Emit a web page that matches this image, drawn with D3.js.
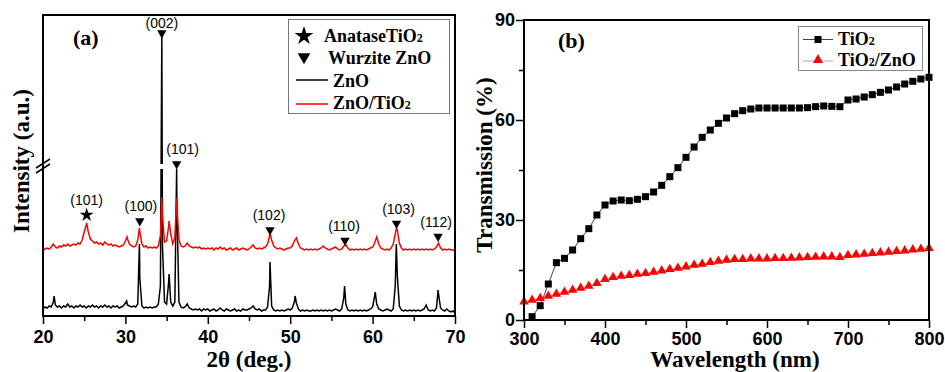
<!DOCTYPE html>
<html lang="en">
<head>
<meta charset="utf-8">
<script src="https://d3js.org/d3.v7.min.js"></script>
<style>
  body { margin: 0; background: #fff; }
  .serif { font-family: "Liberation Serif", "Times New Roman", serif; font-weight: bold; }
  .sans { font-family: "Liberation Sans", Arial, sans-serif; }
</style>
</head>
<body>
<script>
// ---- (a) XRD, every 0.25 deg (arbitrary units, broken axis)
var xrdStart = 20, xrdStep = 0.25;

var znoCounts = [
  7,9,8,10,9,14,11,9,10,8,10,9,12,9,10,8,10,9,11,9,        // 20 - 24.75
  10,8,10,9,11,9,10,8,10,9,11,9,10,8,10,9,10,8,9,10,       // 25 - 29.75
  13,11,10,9,10,9,12,38,10,8,9,8,9,8,9,9,12,30,70,14,      // 30 - 34.75
  12,34,14,10,14,110,14,9,8,9,12,8,7,6,7,6,7,5,7,6,        // 35 - 39.75
  7,5,6,7,5,6,8,6,5,7,6,5,6,7,5,6,5,7,6,6,                 // 40 - 44.75
  7,8,10,7,6,7,5,6,6,9,30,10,6,5,6,5,6,5,6,7,              // 45 - 49.75
  6,8,14,13,7,5,6,5,6,5,5,6,5,6,5,6,5,6,5,6,               // 50 - 54.75
  5,6,7,6,5,7,18,12,6,5,6,5,6,5,6,5,6,5,6,7,               // 55 - 59.75
  9,20,12,7,6,5,6,7,6,5,7,30,40,10,6,5,6,5,6,5,            // 60 - 64.75
  6,5,6,5,6,7,11,6,5,6,5,8,22,8,6,5,7,5,4,5,               // 65 - 69.75
  3
];
var znoApex = [[21.35,20],[30.15,15],[31.7,72],[34.42,279],[35.3,42],[36.22,148],
  [47.55,54],[50.6,20],[56.6,30],[60.32,24],[62.88,72],[67.95,26]];

var znoTiCounts = [
  66,67,68,67,69,72,69,68,70,69,71,70,72,70,71,72,71,73,72,76,
  84,91,84,77,75,73,74,72,73,71,74,72,71,72,70,71,70,69,70,71,
  75,77,72,70,69,70,76,84,72,69,70,68,69,68,69,68,70,80,100,74,
  75,90,82,72,78,110,76,70,69,70,73,70,69,68,69,68,69,67,68,67,
  68,67,68,66,68,67,69,67,68,66,67,68,66,67,68,66,67,68,67,66,
  67,69,71,68,67,68,67,68,69,72,80,76,70,68,67,68,67,66,67,68,
  68,70,75,78,72,68,67,66,67,66,67,66,67,66,67,68,70,68,67,66,
  67,68,69,67,66,67,70,71,68,66,67,66,67,66,67,66,67,66,67,68,
  69,73,79,72,68,67,66,67,66,68,72,82,86,73,68,66,67,66,67,66,
  67,66,67,66,67,66,67,66,67,66,67,69,73,68,66,67,66,67,66,66,
  65
];
var znoTiApex = [[25.3,93],[30.2,79],[31.7,88],[34.42,119],[35.3,95],[36.22,118],
  [47.55,83],[60.5,79],[62.9,88]];

var peakDeg   = [25.3, 31.75, 34.42, 36.22, 47.55, 56.65, 62.9, 67.95];
var peakMark  = [101, 95, 283, 152, 86, 75.5, 92.5, 79.5];
var peakLabel = ["(101)", "(100)", "(002)", "(101)", "(102)", "(110)", "(103)", "(112)"];
var peakPhase = ["anatase", "wurzite", "wurzite", "wurzite", "wurzite", "wurzite", "wurzite", "wurzite"];
var labelDx   = [0, 1, 0, 6, -1, -1, 2, -2];

var xrdTicks = [20, 30, 40, 50, 60, 70];

// ---- (b) transmission
var wlTiO2 = d3.range(310, 801, 10);
var tiO2 = [1.0,4.3,10.8,17.2,18.5,21.0,24.4,27.4,31.5,34.5,
  35.7,36.0,35.8,36.2,37.0,38.4,40.4,43.0,45.7,48.8,
  51.9,54.8,57.0,59.0,60.6,61.9,62.8,63.3,63.6,63.6,
  63.6,63.6,63.6,63.6,63.7,64.0,64.2,64.1,64.0,66.0,
  66.3,66.9,67.6,68.3,69.0,69.9,70.8,71.6,72.3,72.8];
var wlTiZn = d3.range(300, 801, 10);
var tiO2ZnO = [5.5,
  6.0,6.5,7.2,7.8,8.4,9.0,9.6,10.2,11.0,12.2,
  12.8,13.2,13.4,13.8,14.0,14.4,14.8,15.2,15.6,16.0,
  16.5,16.8,17.3,17.7,18.0,18.2,18.2,18.4,18.4,18.4,
  18.5,18.5,18.6,18.7,18.8,18.9,19.0,19.0,18.8,19.4,
  19.6,19.8,20.0,20.2,20.4,20.6,20.8,21.1,21.3,21.5];
var transTicks = [0, 30, 60, 90];
var wlTicks = [300, 400, 500, 600, 700, 800];

var svg = d3.select("body").append("svg")
    .attr("width", 945).attr("height", 372);

function toPoints(counts, apex) {
  var pts = counts.map(function (v, i) { return [xrdStart + i * xrdStep, v]; });
  return pts.concat(apex).sort(function (a, b) { return a[0] - b[0]; });
}

function styleTicks(g, size) {
  g.select(".domain").remove();
  g.selectAll("line").attr("stroke", "#000").attr("stroke-width", 1.5);
  g.selectAll("text").attr("class", "sans").attr("font-size", size)
    .attr("font-weight", "bold").attr("fill", "#000");
}

// ================= panel (a)
var ax = d3.scaleLinear().domain([20, 70]).range([43, 455]);
var ay = d3.scaleLinear().domain([0, 150, 301]).range([316, 166, 15]);

var pa = svg.append("g");

pa.append("g").attr("transform", "translate(0,316)")
  .call(d3.axisBottom(ax).tickValues([25, 35, 45, 55, 65]).tickSize(5).tickFormat(""))
  .call(styleTicks, 18);
pa.append("g").attr("transform", "translate(0,316)")
  .call(d3.axisBottom(ax).tickValues(xrdTicks).tickSize(8).tickPadding(6.5))
  .call(styleTicks, 18);

var xrdLine = d3.line().x(function (d) { return ax(d[0]); }).y(function (d) { return ay(d[1]); });

pa.append("path").datum(toPoints(znoCounts, znoApex))
  .attr("d", xrdLine).attr("fill", "none").attr("stroke", "#000").attr("stroke-width", 1.5);
pa.append("path").datum(toPoints(znoTiCounts, znoTiApex))
  .attr("d", xrdLine).attr("fill", "none").attr("stroke", "#ff0000").attr("stroke-width", 1.5);

// axis break gap
pa.append("rect").attr("x", 45).attr("y", ay(152)).attr("width", 408).attr("height", 5).attr("fill", "#fff");
pa.append("line").attr("x1", 36).attr("y1", ay(143)).attr("x2", 50).attr("y2", ay(152)).attr("stroke", "#000").attr("stroke-width", 1.5);
pa.append("line").attr("x1", 36).attr("y1", ay(148)).attr("x2", 50).attr("y2", ay(157)).attr("stroke", "#000").attr("stroke-width", 1.5);

var triDown = d3.symbol().type(d3.symbolTriangle).size(38);
var star = d3.symbol().type(d3.symbolStar).size(60);

peakDeg.forEach(function (deg, i) {
  var cx = ax(deg), cy = ay(peakMark[i]);
  if (peakPhase[i] === "anatase") {
    pa.append("path").attr("d", star()).attr("transform", "translate(" + cx + "," + cy + ")").attr("fill", "#000");
  } else {
    pa.append("path").attr("d", triDown()).attr("transform", "translate(" + cx + "," + cy + ") rotate(180)").attr("fill", "#000");
  }
  pa.append("text").attr("class", "sans").attr("font-size", 14)
    .attr("x", cx + labelDx[i]).attr("y", Math.max(cy - 10, 28))
    .attr("text-anchor", "middle").text(peakLabel[i]);
});

pa.append("rect").attr("x", 43).attr("y", 15).attr("width", 412).attr("height", 301)
  .attr("fill", "none").attr("stroke", "#000").attr("stroke-width", 2);

pa.append("text").attr("class", "serif").attr("font-size", 22).attr("x", 73).attr("y", 45).text("(a)");

// legend (a)
var lgA = pa.append("g");
lgA.append("rect").attr("x", 288.5).attr("y", 19.5).attr("width", 161).attr("height", 94)
  .attr("fill", "#fff").attr("stroke", "#777").attr("stroke-width", 1);
lgA.append("path").attr("d", d3.symbol().type(d3.symbolStar).size(110)())
  .attr("transform", "translate(304,36)").attr("fill", "#000");
lgA.append("path").attr("d", d3.symbol().type(d3.symbolTriangle).size(70)())
  .attr("transform", "translate(304,57) rotate(180)").attr("fill", "#000");
lgA.append("line").attr("x1", 296).attr("x2", 328).attr("y1", 80).attr("y2", 80).attr("stroke", "#000").attr("stroke-width", 1.5);
lgA.append("line").attr("x1", 296).attr("x2", 328).attr("y1", 104).attr("y2", 104).attr("stroke", "#ff0000").attr("stroke-width", 1.5);

function legendText(g, x, y, parts) {
  var t = g.append("text").attr("class", "serif").attr("font-size", 18).attr("x", x).attr("y", y);
  parts.forEach(function (p) {
    t.append("tspan").attr("font-size", p[1] ? 12 : 18).text(p[0]);
  });
}
legendText(lgA, 324, 42, [["AnataseTiO", 0], ["2", 1]]);
legendText(lgA, 328, 64, [["Wurzite ZnO", 0]]);
legendText(lgA, 333, 86.5, [["ZnO", 0]]);
legendText(lgA, 333, 109, [["ZnO/TiO", 0], ["2", 1]]);

pa.append("text").attr("class", "serif").attr("font-size", 23)
  .attr("x", 249).attr("y", 367).attr("text-anchor", "middle").text("2\u03b8 (deg.)");
pa.append("text").attr("class", "serif").attr("font-size", 23)
  .attr("transform", "translate(29,161) rotate(-90)").attr("text-anchor", "middle").text("Intensity (a.u.)");

// ================= panel (b)
var bx = d3.scaleLinear().domain([300, 800]).range([524, 929]);
var by = d3.scaleLinear().domain([0, 90]).range([320, 20]);
var pb = svg.append("g");

pb.append("g").attr("transform", "translate(0,320)")
  .call(d3.axisBottom(bx).tickValues([350, 450, 550, 650, 750]).tickSize(5).tickFormat(""))
  .call(styleTicks, 18);
pb.append("g").attr("transform", "translate(0,320)")
  .call(d3.axisBottom(bx).tickValues(wlTicks).tickSize(8).tickPadding(4))
  .call(styleTicks, 18);
pb.append("g").attr("transform", "translate(524,0)")
  .call(d3.axisLeft(by).tickValues([15, 45, 75]).tickSize(5).tickFormat(""))
  .call(styleTicks, 18);
pb.append("g").attr("transform", "translate(524,0)")
  .call(d3.axisLeft(by).tickValues(transTicks).tickSize(8).tickPadding(1))
  .call(styleTicks, 18);

var tiPts = wlTiO2.map(function (w, i) { return [w, tiO2[i]]; });
var znPts = wlTiZn.map(function (w, i) { return [w, tiO2ZnO[i]]; });
var transLine = d3.line().x(function (d) { return bx(d[0]); }).y(function (d) { return by(d[1]); });

pb.append("path").datum(znPts).attr("d", transLine).attr("fill", "none").attr("stroke", "#aaa").attr("stroke-width", 1);
pb.append("path").datum(tiPts).attr("d", transLine).attr("fill", "none").attr("stroke", "#444").attr("stroke-width", 1);

var triUp = d3.symbol().type(d3.symbolTriangle).size(40);
pb.selectAll(".tri").data(znPts).enter().append("path")
  .attr("d", triUp()).attr("fill", "#ff0000")
  .attr("transform", function (d) { return "translate(" + bx(d[0]) + "," + by(d[1]) + ")"; });
pb.selectAll(".sq").data(tiPts).enter().append("rect")
  .attr("x", function (d) { return bx(d[0]) - 3.5; })
  .attr("y", function (d) { return by(d[1]) - 3.5; })
  .attr("width", 7).attr("height", 7).attr("fill", "#000");

pb.append("rect").attr("x", 524).attr("y", 20).attr("width", 405).attr("height", 300)
  .attr("fill", "none").attr("stroke", "#000").attr("stroke-width", 2);

pb.append("text").attr("class", "serif").attr("font-size", 22).attr("x", 558).attr("y", 48).text("(b)");

var lgB = pb.append("g");
lgB.append("rect").attr("x", 798.5).attr("y", 26.5).attr("width", 124).attr("height", 44)
  .attr("fill", "#fff").attr("stroke", "#888").attr("stroke-width", 1);
lgB.append("line").attr("x1", 803).attr("x2", 833).attr("y1", 39.5).attr("y2", 39.5).attr("stroke", "#444").attr("stroke-width", 1);
lgB.append("rect").attr("x", 814.5).attr("y", 36).attr("width", 7).attr("height", 7).attr("fill", "#000");
lgB.append("line").attr("x1", 803).attr("x2", 833).attr("y1", 61).attr("y2", 61).attr("stroke", "#aaa").attr("stroke-width", 1);
lgB.append("path").attr("d", d3.symbol().type(d3.symbolTriangle).size(45)())
  .attr("transform", "translate(818,60)").attr("fill", "#ff0000");
legendText(lgB, 838, 45, [["TiO", 0], ["2", 1]]);
legendText(lgB, 838, 66, [["TiO", 0], ["2", 1], ["/ZnO", 0]]);

pb.append("text").attr("class", "serif").attr("font-size", 23)
  .attr("x", 735).attr("y", 367).attr("text-anchor", "middle").text("Wavelength (nm)");
pb.append("text").attr("class", "serif").attr("font-size", 23)
  .attr("transform", "translate(492,165) rotate(-90)").attr("text-anchor", "middle").text("Transmission (%)");
</script>
</body>
</html>
